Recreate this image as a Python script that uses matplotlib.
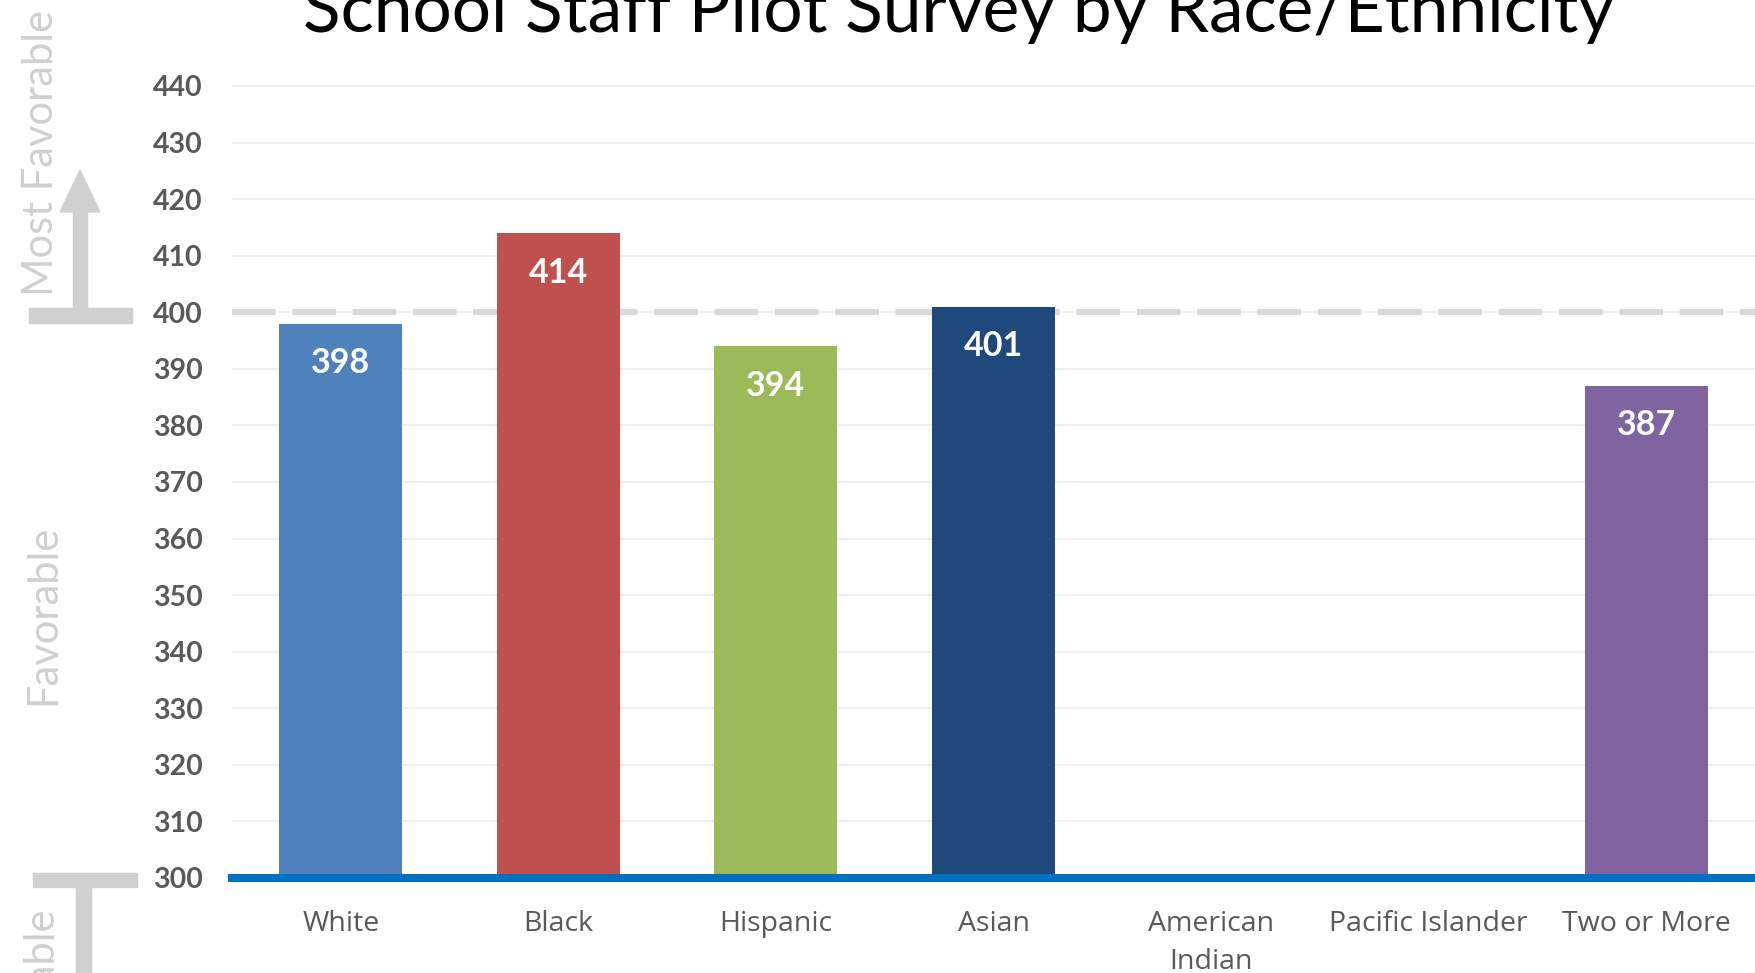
import matplotlib
matplotlib.use("Agg")
import matplotlib.pyplot as plt
import numpy as np
from matplotlib.patches import Rectangle, Polygon

plt.rcParams["font.family"] = ["Lato", "DejaVu Sans"]

# scale scores by race/ethnicity; no bar where a group has no score
groups = ["White", "Black", "Hispanic", "Asian", "American\nIndian",
          "Pacific Islander", "Two or More"]
scores = [398, 414, 394, 401, np.nan, np.nan, 387]
colors = ["#4F81BD", "#C0504D", "#9BBB59", "#1F497D", "#4BACC6",
          "#F79646", "#8064A2"]
yticks = list(range(300, 450, 10))
favorable_cut = 400

W, H = 1755, 973
fig = plt.figure(figsize=(W / 100, H / 100), dpi=100)
ax = fig.add_axes([232 / W, 1 - 878 / H, 1 - 232 / W, 826 / H])

x = np.arange(len(groups))
ax.bar(x, scores, width=0.565, color=colors, zorder=3, bottom=0)
ax.set_xlim(-0.5, len(groups) - 0.5)
ax.set_ylim(300, 446)

ax.set_yticks(yticks)
ax.set_yticklabels([str(t) for t in yticks], fontsize=20.5, fontweight="bold",
                   color="#595959")
ax.set_xticks(x)
ax.set_xticklabels(groups, fontsize=20.5, color="#595959", linespacing=1.5,
                   family=["Open Sans", "DejaVu Sans"])
ax.tick_params(axis="y", length=0, pad=21)
ax.tick_params(axis="x", length=0, pad=23)
for s in ax.spines.values():
    s.set_visible(False)
ax.grid(axis="y", color="#efefef", lw=1.5, zorder=0)
ax.set_axisbelow(True)

# "most favorable" threshold and baseline
ax.axhline(favorable_cut, color="#d9d9d9", lw=4.3, dashes=(7.3, 2.8),
           zorder=2, clip_on=False)
ax.axhline(300, color="#0070C0", lw=5.8, zorder=4, clip_on=False)

for xi, v in zip(x, scores):
    if np.isnan(v):
        continue
    ax.annotate(f"{v:.0f}", (xi, v), xytext=(0, -28.5), textcoords="offset points",
                ha="center", va="center", color="white", fontsize=24.5,
                fontweight="bold", zorder=5)

fig.text(959 / W, 1 - 32 / H, "School Staff Pilot Survey by Race/Ethnicity",
         ha="center", va="baseline", fontsize=50, color="black")


def fx(px):
    return px / W


def fy(py):
    return 1 - py / H


grey = "#d0d0d0"
# up arrow beside the favorable band
fig.patches.append(Rectangle((fx(29), fy(323)), fx(103), 15 / H, color=grey,
                             transform=fig.transFigure))
fig.patches.append(Rectangle((fx(73), fy(310)), fx(14), 98 / H, color=grey,
                             transform=fig.transFigure))
fig.patches.append(Polygon([(fx(60), fy(212)), (fx(100), fy(212)), (fx(80), fy(170))],
                           closed=True, color=grey, transform=fig.transFigure))
# down arrow below the baseline
fig.patches.append(Rectangle((fx(33), fy(887)), fx(104), 14 / H, color=grey,
                             transform=fig.transFigure))
fig.patches.append(Rectangle((fx(76), fy(990)), fx(15), 103 / H, color=grey,
                             transform=fig.transFigure))

fig.text(fx(41), fy(10), "Most Favorable", rotation=90, ha="center", va="top",
         fontsize=30, color=grey)
fig.text(fx(43), fy(615), "Favorable", rotation=90, ha="center", va="center",
         fontsize=30, color=grey)
fig.text(fx(43), fy(910), "Less Favorable", rotation=90, ha="center", va="top",
         fontsize=30, color=grey)

fig.savefig("out.png", dpi=100)
